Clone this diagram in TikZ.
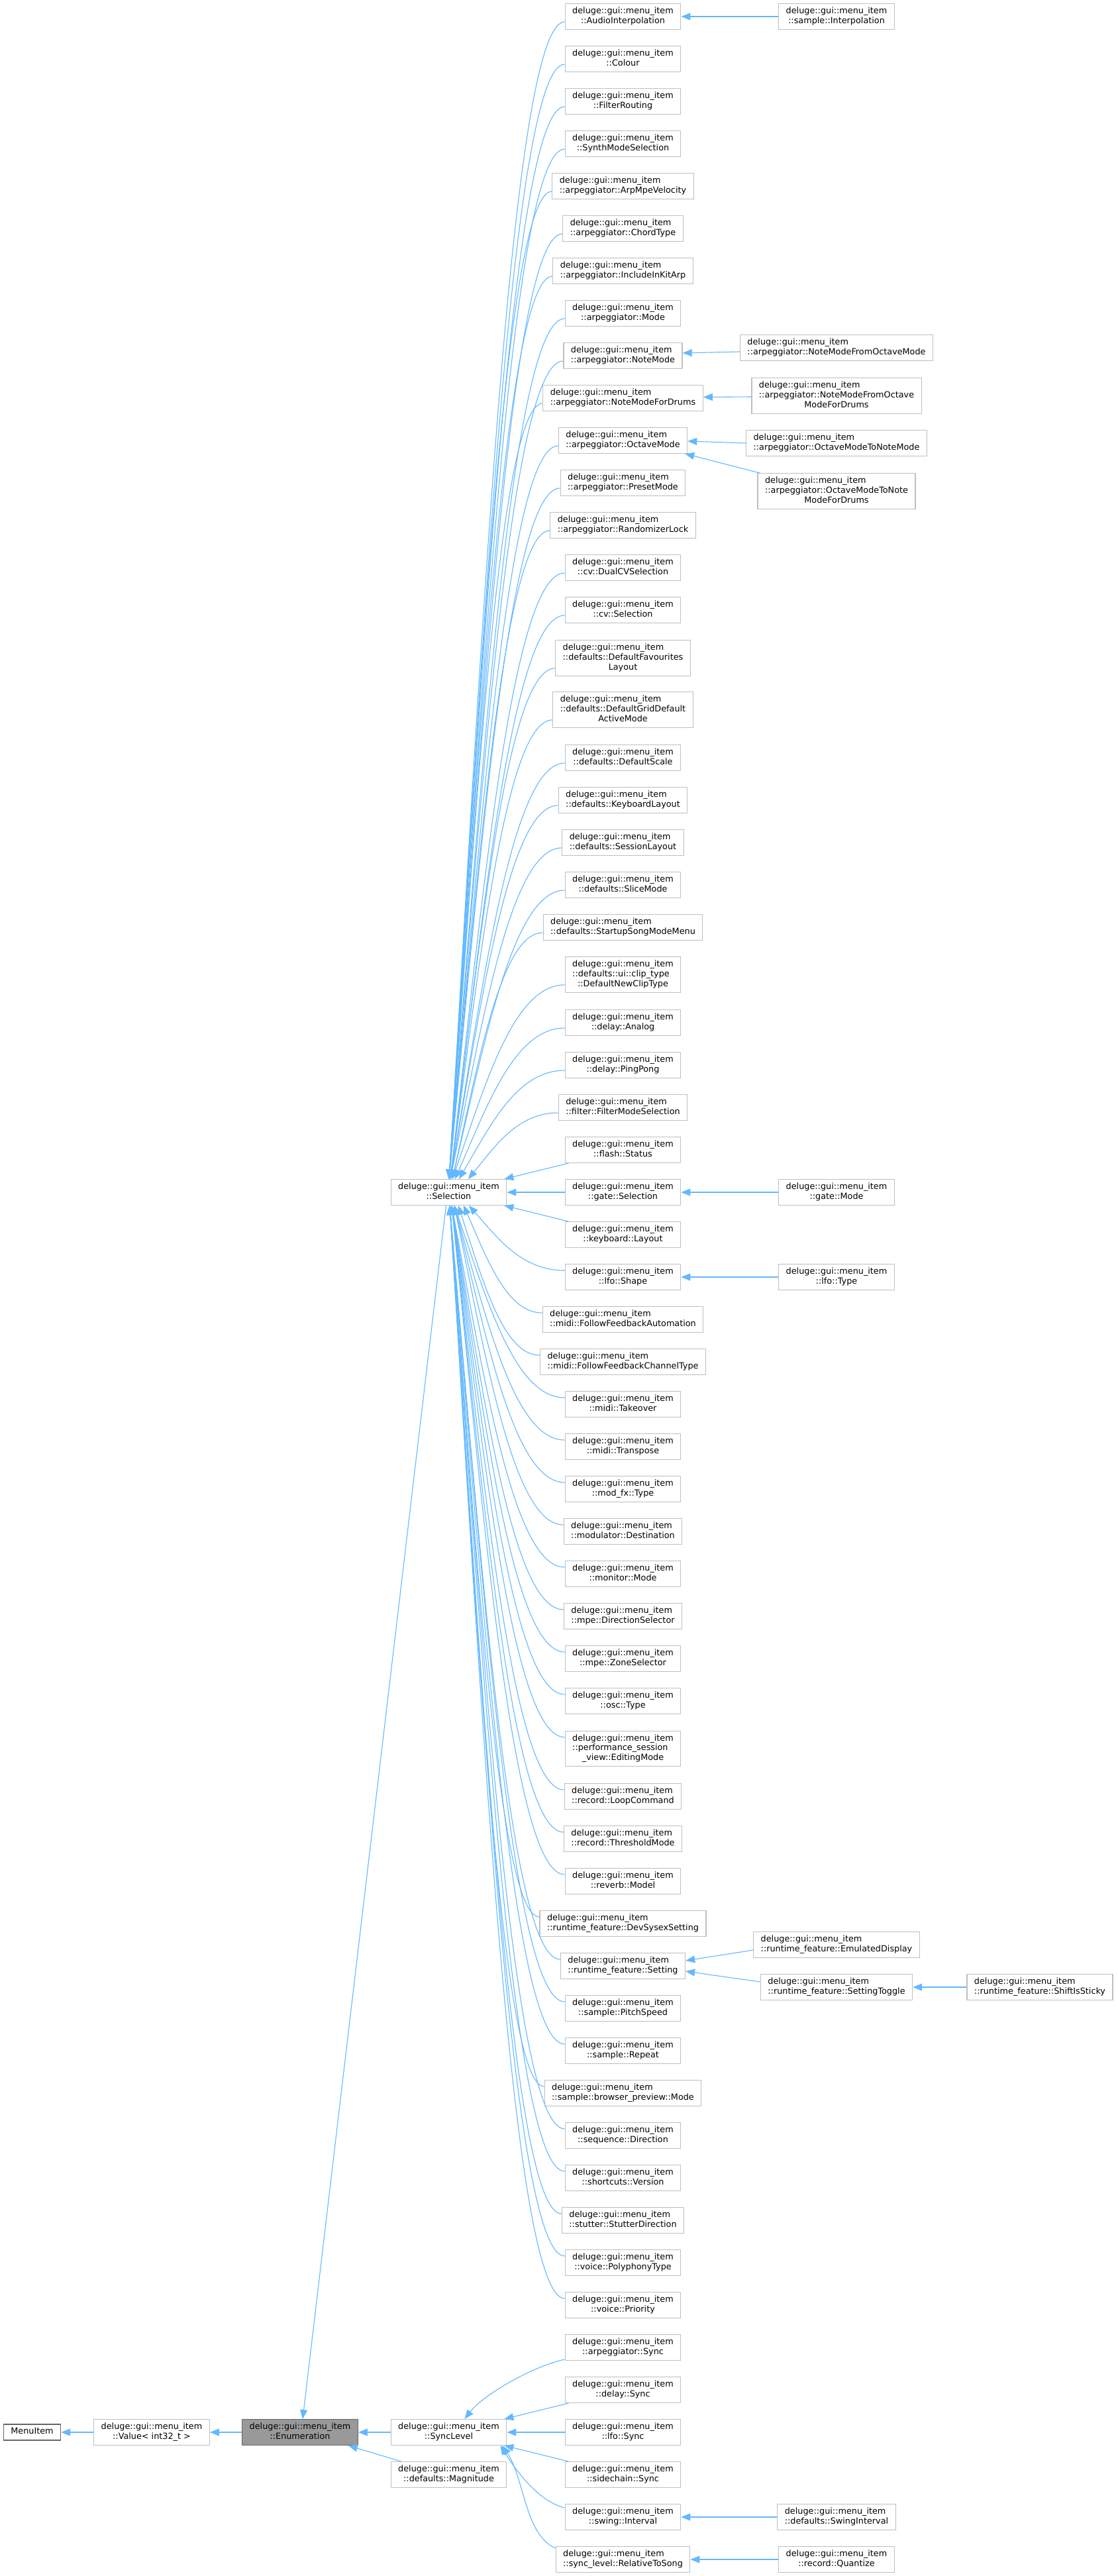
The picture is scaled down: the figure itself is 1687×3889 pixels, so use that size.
\documentclass[tikz,border=0pt]{standalone}
\usepackage{fontspec}
\newfontfamily\dxfont{DejaVu Sans}
\usetikzlibrary{arrows.meta,calc}
\definecolor{edgeblue}{HTML}{63B8FF}
\definecolor{bordergrey}{HTML}{BFBFBF}
\definecolor{darkgrey}{HTML}{666666}
\definecolor{fillgrey}{HTML}{999999}
\newcommand\dxf{\dxfont\fontsize{12.8pt}{14.7pt}\selectfont}
\newcommand\dg{deluge::gui::menu\_item}
\newcommand\Ltwo[2]{\begin{tabular}{@{}l@{}}#1\\\multicolumn{1}{@{}c@{}}{#2}\end{tabular}}
\newcommand\Lthree[3]{\begin{tabular}{@{}l@{}}#1\\#2\\\multicolumn{1}{@{}c@{}}{#3}\end{tabular}}
\tikzset{
  cls/.style={draw=bordergrey, fill=white, line width=1.2pt, inner xsep=11pt, inner ysep=4.7pt, font=\dxf, text=black},
  edge/.style={draw=edgeblue, line width=1.1pt, -{Triangle[length=14pt,width=11pt]}, fill=none},
}
\newcommand\upE[2]{\draw[edge] let \p1=($(#1.south west)+(0,-12)$), \p2=(#2,1780), \n1={\x1-\x2}, \n2={\y1-\y2} in (\p1) .. controls ({\x1-0.45*\n1},\y1) and ({\x2+0.3*\n1},{\y2+0.5*\n2}) .. (\p2);}
\newcommand\dnE[2]{\draw[edge] let \p1=($(#1.north west)+(0,10)$), \p2=(#2,1820), \n1={\x1-\x2}, \n2={\y2-\y1} in (\p1) .. controls ({\x1-0.45*\n1},\y1) and ({\x2+0.3*\n1},{\y2-0.5*\n2}) .. (\p2);}
\begin{document}
\begin{tikzpicture}[x=1pt,y=-1pt]
\useasboundingbox (0,0) rectangle (1687,3889);
\fill[white] (0,0) rectangle (1687,3889);
% middle column
\node[cls] (m1) at (940.5,25) {\Ltwo{\dg}{::AudioInterpolation}};
\node[cls] (m2) at (940.5,89) {\Ltwo{\dg}{::Colour}};
\node[cls] (m3) at (940.5,153) {\Ltwo{\dg}{::FilterRouting}};
\node[cls] (m4) at (940.5,217) {\Ltwo{\dg}{::SynthModeSelection}};
\node[cls] (m5) at (940.5,281) {\Ltwo{\dg}{::arpeggiator::ArpMpeVelocity}};
\node[cls] (m6) at (940.5,345) {\Ltwo{\dg}{::arpeggiator::ChordType}};
\node[cls] (m7) at (940.5,409) {\Ltwo{\dg}{::arpeggiator::IncludeInKitArp}};
\node[cls] (m8) at (940.5,473) {\Ltwo{\dg}{::arpeggiator::Mode}};
\node[cls] (m9) at (940.5,537) {\Ltwo{\dg}{::arpeggiator::NoteMode}};
\node[cls] (m10) at (940.5,601) {\Ltwo{\dg}{::arpeggiator::NoteModeForDrums}};
\node[cls] (m11) at (940.5,665) {\Ltwo{\dg}{::arpeggiator::OctaveMode}};
\node[cls] (m12) at (940.5,729) {\Ltwo{\dg}{::arpeggiator::PresetMode}};
\node[cls] (m13) at (940.5,793) {\Ltwo{\dg}{::arpeggiator::RandomizerLock}};
\node[cls] (m14) at (940.5,857) {\Ltwo{\dg}{::cv::DualCVSelection}};
\node[cls] (m15) at (940.5,921) {\Ltwo{\dg}{::cv::Selection}};
\node[cls] (m16) at (940.5,993.5) {\Lthree{\dg}{::defaults::DefaultFavourites}{Layout}};
\node[cls] (m17) at (940.5,1071.5) {\Lthree{\dg}{::defaults::DefaultGridDefault}{ActiveMode}};
\node[cls] (m18) at (940.5,1144) {\Ltwo{\dg}{::defaults::DefaultScale}};
\node[cls] (m19) at (940.5,1208) {\Ltwo{\dg}{::defaults::KeyboardLayout}};
\node[cls] (m20) at (940.5,1272) {\Ltwo{\dg}{::defaults::SessionLayout}};
\node[cls] (m21) at (940.5,1336) {\Ltwo{\dg}{::defaults::SliceMode}};
\node[cls] (m22) at (940.5,1400) {\Ltwo{\dg}{::defaults::StartupSongModeMenu}};
\node[cls] (m23) at (940.5,1471.5) {\Lthree{\dg}{::defaults::ui::clip\_type}{::DefaultNewClipType}};
\node[cls] (m24) at (940.5,1544) {\Ltwo{\dg}{::delay::Analog}};
\node[cls] (m25) at (940.5,1608) {\Ltwo{\dg}{::delay::PingPong}};
\node[cls] (m26) at (940.5,1672) {\Ltwo{\dg}{::filter::FilterModeSelection}};
\node[cls] (m27) at (940.5,1736) {\Ltwo{\dg}{::flash::Status}};
\node[cls] (m28) at (940.5,1800) {\Ltwo{\dg}{::gate::Selection}};
\node[cls] (m29) at (940.5,1864) {\Ltwo{\dg}{::keyboard::Layout}};
\node[cls] (m30) at (940.5,1928) {\Ltwo{\dg}{::lfo::Shape}};
\node[cls] (m31) at (940.5,1992) {\Ltwo{\dg}{::midi::FollowFeedbackAutomation}};
\node[cls] (m32) at (940.5,2056) {\Ltwo{\dg}{::midi::FollowFeedbackChannelType}};
\node[cls] (m33) at (940.5,2120) {\Ltwo{\dg}{::midi::Takeover}};
\node[cls] (m34) at (940.5,2184) {\Ltwo{\dg}{::midi::Transpose}};
\node[cls] (m35) at (940.5,2248) {\Ltwo{\dg}{::mod\_fx::Type}};
\node[cls] (m36) at (940.5,2312) {\Ltwo{\dg}{::modulator::Destination}};
\node[cls] (m37) at (940.5,2376) {\Ltwo{\dg}{::monitor::Mode}};
\node[cls] (m38) at (940.5,2440) {\Ltwo{\dg}{::mpe::DirectionSelector}};
\node[cls] (m39) at (940.5,2504) {\Ltwo{\dg}{::mpe::ZoneSelector}};
\node[cls] (m40) at (940.5,2568) {\Ltwo{\dg}{::osc::Type}};
\node[cls] (m41) at (940.5,2640) {\Lthree{\dg}{::performance\_session}{\_view::EditingMode}};
\node[cls] (m42) at (940.5,2712) {\Ltwo{\dg}{::record::LoopCommand}};
\node[cls] (m43) at (940.5,2776) {\Ltwo{\dg}{::record::ThresholdMode}};
\node[cls] (m44) at (940.5,2840) {\Ltwo{\dg}{::reverb::Model}};
\node[cls] (m45) at (940.5,2904) {\Ltwo{\dg}{::runtime\_feature::DevSysexSetting}};
\node[cls] (m46) at (940.5,2968) {\Ltwo{\dg}{::runtime\_feature::Setting}};
\node[cls] (m47) at (940.5,3032) {\Ltwo{\dg}{::sample::PitchSpeed}};
\node[cls] (m48) at (940.5,3096) {\Ltwo{\dg}{::sample::Repeat}};
\node[cls] (m49) at (940.5,3160) {\Ltwo{\dg}{::sample::browser\_preview::Mode}};
\node[cls] (m50) at (940.5,3224) {\Ltwo{\dg}{::sequence::Direction}};
\node[cls] (m51) at (940.5,3288) {\Ltwo{\dg}{::shortcuts::Version}};
\node[cls] (m52) at (940.5,3352) {\Ltwo{\dg}{::stutter::StutterDirection}};
\node[cls] (m53) at (940.5,3416) {\Ltwo{\dg}{::voice::PolyphonyType}};
\node[cls] (m54) at (940.5,3480) {\Ltwo{\dg}{::voice::Priority}};
% SyncLevel children
\node[cls] (s1) at (940.5,3544) {\Ltwo{\dg}{::arpeggiator::Sync}};
\node[cls] (s2) at (940.5,3608) {\Ltwo{\dg}{::delay::Sync}};
\node[cls] (s3) at (940.5,3672) {\Ltwo{\dg}{::lfo::Sync}};
\node[cls] (s4) at (940.5,3736) {\Ltwo{\dg}{::sidechain::Sync}};
\node[cls] (s5) at (940.5,3800) {\Ltwo{\dg}{::swing::Interval}};
\node[cls] (s6) at (940.5,3864) {\Ltwo{\dg}{::sync\_level::RelativeToSong}};
% left part
\node[cls] (sel) at (677.5,1800) {\Ltwo{\dg}{::Selection}};
\node[cls] (sync) at (677.5,3672) {\Ltwo{\dg}{::SyncLevel}};
\node[cls] (mag) at (677.5,3736) {\Ltwo{\dg}{::defaults::Magnitude}};
\node[cls, fill=fillgrey, draw=darkgrey] (en) at (453,3672) {\Ltwo{\dg}{::Enumeration}};
\node[cls] (val) at (229,3672) {\Ltwo{\dg}{::Value< int32\_t >}};
\node[cls, draw=darkgrey] (mi) at (48.5,3672) {\strut MenuItem};
% right column
\node[cls] (r1) at (1263,25) {\Ltwo{\dg}{::sample::Interpolation}};
\node[cls] (r2) at (1263,525) {\Ltwo{\dg}{::arpeggiator::NoteModeFromOctaveMode}};
\node[cls] (r3) at (1263,597.5) {\Lthree{\dg}{::arpeggiator::NoteModeFromOctave}{ModeForDrums}};
\node[cls] (r4) at (1263,669) {\Ltwo{\dg}{::arpeggiator::OctaveModeToNoteMode}};
\node[cls] (r5) at (1263,741.5) {\Lthree{\dg}{::arpeggiator::OctaveModeToNote}{ModeForDrums}};
\node[cls] (r6) at (1263,1800) {\Ltwo{\dg}{::gate::Mode}};
\node[cls] (r7) at (1263,1928) {\Ltwo{\dg}{::lfo::Type}};
\node[cls] (r8) at (1263,2936) {\Ltwo{\dg}{::runtime\_feature::EmulatedDisplay}};
\node[cls] (r9) at (1263,3000) {\Ltwo{\dg}{::runtime\_feature::SettingToggle}};
\node[cls] (r10) at (1570,3000) {\Ltwo{\dg}{::runtime\_feature::ShiftIsSticky}};
\node[cls] (r11) at (1263,3800) {\Ltwo{\dg}{::defaults::SwingInterval}};
\node[cls] (r12) at (1263,3864) {\Ltwo{\dg}{::record::Quantize}};
% edges to Selection from above
\foreach \nd/\xe in {m1/678,m2/678,m3/678,m4/678,m5/678,m6/678,m7/678,m8/678,m9/678,m10/678,m11/678,m12/678,m13/678,m14/680,m15/680,m16/680,m17/680,m18/680,m19/680,m20/680,m21/683,m22/683,m23/683,m24/687,m25/693,m26/707}{\upE{\nd}{\xe}}
% edges to Selection from below
\foreach \nd/\xe in {m30/708,m31/700,m32/692,m33/686,m34/686,m35/686,m36/686,m37/682,m38/682,m39/682,m40/682,m41/682,m42/682,m43/682,m44/682,m45/679,m46/679,m47/679,m48/679,m49/679,m50/679,m51/679,m52/679,m53/679,m54/679}{\dnE{\nd}{\xe}}
\draw[edge] ($(m27.south west)+(6,0)$) -- ($(sel.north east)+(-4,0)$);
\draw[edge] (m28.west) -- (sel.east);
\draw[edge] ($(m29.north west)+(6,0)$) -- ($(sel.south east)+(-4,0)$);
% right column edges
\draw[edge] (r1.west) -- (m1.east);
\draw[edge] ($(r2.west)+(0,6)$) -- ($(m9.east)+(0,-4)$);
\draw[edge] ($(r3.west)+(0,1.5)$) -- ($(m10.east)+(0,-1.5)$);
\draw[edge] (r4.west) -- ($(m11.east)+(0,1)$);
\draw[edge] ($(r5.north west)+(4,0)$) -- ($(m11.south east)+(-4,0)$);
\draw[edge] (r6.west) -- (m28.east);
\draw[edge] (r7.west) -- (m30.east);
\draw[edge] ($(r8.west)+(0,8)$) -- ($(m46.east)+(0,-8)$);
\draw[edge] ($(r9.west)+(0,-8)$) -- ($(m46.east)+(0,8)$);
\draw[edge] (r10.west) -- (r9.east);
\draw[edge] (r11.west) -- (s5.east);
\draw[edge] (r12.west) -- (s6.east);
% SyncLevel children edges
\draw[edge] ($(s1.south west)+(0,-2)$) .. controls (805,3572) and (730,3615) .. ($(sync.north)+(24,0)$);
\draw[edge] ($(s2.south west)+(6,0)$) -- ($(sync.north east)+(-4,0)$);
\draw[edge] (s3.west) -- (sync.east);
\draw[edge] ($(s4.north west)+(6,0)$) -- ($(sync.south east)+(-4,0)$);
\draw[edge] ($(s5.west)+(0,-14)$) .. controls (812,3776) and (778,3728) .. ($(sync.south east)+(-10,0)$);
\draw[edge] ($(s6.north west)+(0,3)$) .. controls (792,3826) and (792,3742) .. ($(sync.south east)+(-7,0)$);
% left chain
\draw[edge] ($(sel.south)+(-4,0)$) -- ($(en.north)+(4,0)$);
\draw[edge] (sync.west) -- (en.east);
\draw[edge] ($(mag.north west)+(16,0)$) -- ($(en.south east)+(-15,0)$);
\draw[edge] (en.west) -- (val.east);
\draw[edge] (val.west) -- (mi.east);
\end{tikzpicture}
\end{document}
